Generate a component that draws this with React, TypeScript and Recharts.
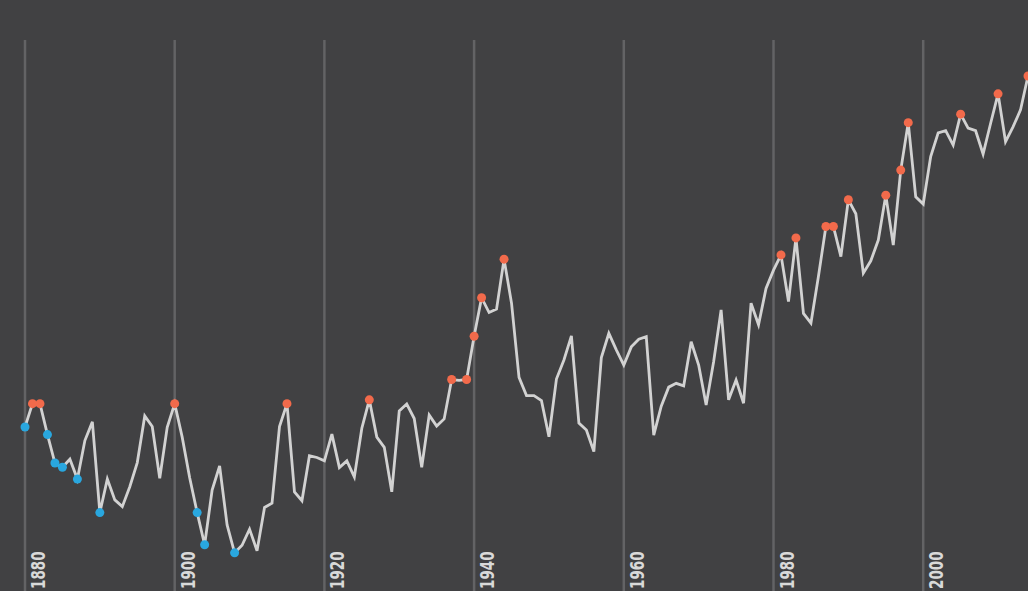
import React from 'react';
import { LineChart, Line, XAxis, YAxis, ReferenceLine } from 'recharts';

const START_YEAR = 1880;

// Annual temperature anomaly (°C), 1880–2014
const anomalies: number[] = [
  -0.213, -0.158, -0.158, -0.231, -0.298, -0.308, -0.289, -0.336, -0.245, -0.201,
  -0.415, -0.336, -0.385, -0.401, -0.354, -0.297, -0.187, -0.212, -0.334, -0.214,
  -0.158, -0.237, -0.333, -0.415, -0.491, -0.362, -0.305, -0.444, -0.510, -0.492,
  -0.454, -0.505, -0.403, -0.393, -0.212, -0.158, -0.366, -0.387, -0.281, -0.285,
  -0.293, -0.230, -0.309, -0.293, -0.331, -0.216, -0.149, -0.237, -0.261, -0.366,
  -0.175, -0.159, -0.193, -0.308, -0.185, -0.211, -0.194, -0.101, -0.103, -0.101,
  0.001, 0.092, 0.057, 0.065, 0.183, 0.079, -0.096, -0.139, -0.139, -0.151,
  -0.236, -0.100, -0.055, 0.002, -0.204, -0.220, -0.271, -0.049, 0.008, -0.031,
  -0.067, -0.024, -0.006, 0.000, -0.232, -0.164, -0.119, -0.110, -0.116, -0.012,
  -0.067, -0.161, -0.059, 0.063, -0.149, -0.102, -0.157, 0.079, 0.028, 0.114,
  0.157, 0.193, 0.083, 0.233, 0.055, 0.032, 0.142, 0.260, 0.260, 0.189,
  0.323, 0.290, 0.150, 0.179, 0.228, 0.334, 0.216, 0.393, 0.505, 0.330,
  0.313, 0.425, 0.481, 0.486, 0.452, 0.525, 0.492, 0.486, 0.431, 0.503,
  0.573, 0.460, 0.495, 0.535, 0.615,
];

const recordHighYears = [
  1881, 1882, 1900, 1915, 1926, 1937, 1939, 1940, 1941, 1944,
  1981, 1983, 1987, 1988, 1990, 1995, 1997, 1998, 2005, 2010, 2014,
];
const recordLowYears = [1880, 1883, 1884, 1885, 1887, 1890, 1903, 1904, 1908];

const tickYears = [1880, 1900, 1920, 1940, 1960, 1980, 2000];

const data = anomalies.map((v, i) => ({ year: START_YEAR + i, value: v }));

const BG = '#414143';
const LINE = '#d2d2d2';
const RED = '#f26a4b';
const BLUE = '#29a7df';
const GRID = '#636365';
const LABEL = '#d9d9d9';

const RecordDot = (props: any) => {
  const { cx, cy, payload, index } = props;
  if (cx == null || cy == null) return <g key={`d${index}`} />;
  let fill: string | null = null;
  if (recordHighYears.includes(payload.year)) fill = RED;
  else if (recordLowYears.includes(payload.year)) fill = BLUE;
  if (!fill) return <g key={`d${index}`} />;
  return <circle key={`d${index}`} cx={cx} cy={cy} r={4.5} fill={fill} stroke="none" />;
};

const makeYearLabel = (year: number) => (props: any) => {
  const vb = props.viewBox || {};
  const tx = (vb.x ?? 0) + 20;
  const ty = 589;
  return (
    <text
      x={0}
      y={0}
      transform={`translate(${tx} ${ty}) rotate(-90) scale(0.75 1)`}
      textAnchor="start"
      fill={LABEL}
      fontFamily="'DejaVu Sans Condensed', 'DejaVu Sans', sans-serif"
      fontWeight="bold"
      fontSize={20}
    >
      {year}
    </text>
  );
};

export default function App() {
  return (
    <div
      style={{
        position: 'absolute',
        left: 0,
        top: 0,
        width: 1028,
        height: 591,
        background: BG,
        overflow: 'hidden',
      }}
    >
      <LineChart
        width={1028}
        height={591}
        data={data}
        margin={{ top: 40, right: 0, left: 25, bottom: 0 }}
      >
        <XAxis dataKey="year" type="number" domain={[1880, 2014]} hide />
        <YAxis hide domain={[-0.6, 0.7]} />
        {tickYears.map((yr) => (
          <ReferenceLine
            key={yr}
            x={yr}
            stroke={GRID}
            strokeWidth={2.5}
            label={{ content: makeYearLabel(yr) }}
          />
        ))}
        <Line
          type="linear"
          dataKey="value"
          stroke={LINE}
          strokeWidth={2.8}
          dot={<RecordDot />}
          activeDot={false}
          isAnimationActive={false}
        />
      </LineChart>
    </div>
  );
}
